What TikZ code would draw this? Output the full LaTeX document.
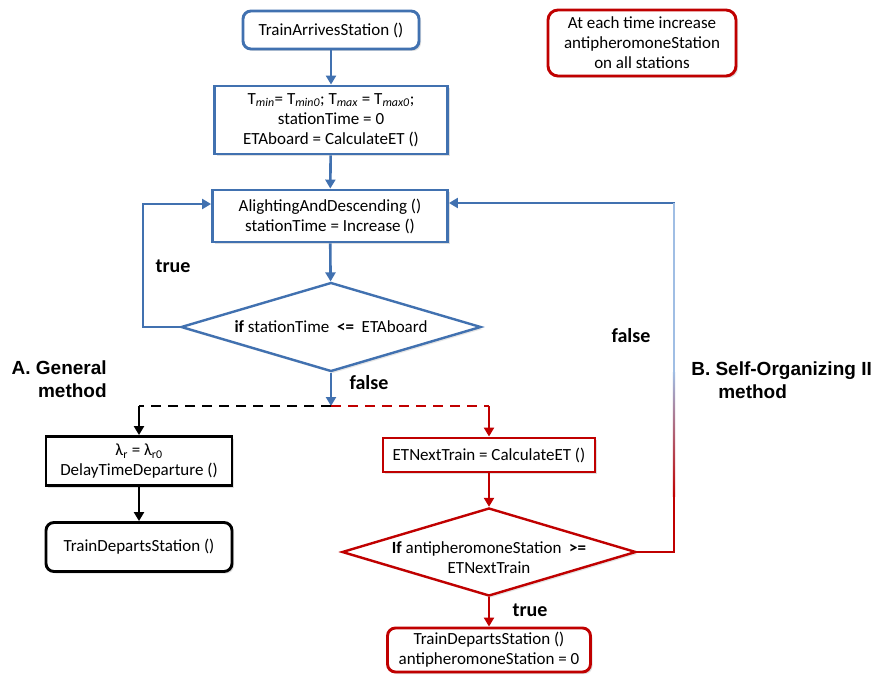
\documentclass[tikz,border=0pt]{standalone}
\usepackage{fontspec}
\setmainfont{Carlito}
\newfontfamily\labelfont{Liberation Sans}
\usetikzlibrary{shapes.geometric,arrows.meta,shadows}
\definecolor{flowblue}{RGB}{65,113,176}
\definecolor{flowred}{RGB}{192,0,0}
\definecolor{paleblue}{RGB}{160,190,228}

\begin{document}
\begin{tikzpicture}[x=1pt, y=-1pt, >={Triangle[length=9pt,width=10pt]}, line width=2.6pt]
\tikzstyle{flowbox}=[rectangle, draw, line width=2.9pt, fill=white, align=center, inner sep=2pt,
  font=\fontsize{17}{20}\selectfont, drop shadow={shadow xshift=2pt, shadow yshift=-2pt, opacity=0.25}]
\tikzstyle{decision}=[diamond, draw, line width=2.4pt, fill=white, aspect=3.3, inner sep=0pt,
  font=\fontsize{17}{20}\selectfont, drop shadow={shadow xshift=2pt, shadow yshift=-2pt, opacity=0.2}]
\tikzstyle{blueflow}=[->, draw=flowblue]
\tikzstyle{redflow}=[->, draw=flowred]
\tikzstyle{blackflow}=[->, draw=black]
\tikzstyle{bigword}=[inner sep=0pt, font=\fontsize{20}{24}\selectfont\bfseries]
\tikzstyle{method}=[inner sep=0pt, font=\labelfont\bfseries\fontsize{19}{23}\selectfont]
\fill[white] (0,0) rectangle (879,677);
\useasboundingbox (0,0) rectangle (879,677);
% main loop
\node[flowbox, rounded corners=8pt, draw=flowblue, minimum width=176pt, minimum height=38pt] (arrive) at (331,30) {TrainArrivesStation ()};
\node[flowbox, draw=flowblue, minimum width=233pt, minimum height=68pt] (init) at (331,120)
  {T\textsubscript{\textit{min}}= T\textsubscript{\textit{min0}}; T\textsubscript{\textit{max}} = T\textsubscript{\textit{max0}};\\stationTime = 0\\ETAboard = CalculateET ()};
\node[flowbox, draw=flowblue, minimum width=235pt, minimum height=52pt] (alight) at (330,216) {AlightingAndDescending ()\\stationTime = Increase ()};
\node[decision, draw=flowblue, minimum width=300pt, minimum height=89pt] (ifstay) at (331,327) {\textbf{if} stationTime \ \textbf{<=} \ ETAboard};
\coordinate (split) at (331,406);
% A. general method
\node[flowbox, draw=black, minimum width=186pt, minimum height=49pt] (delay) at (139,461) {λ\textsubscript{r} = λ\textsubscript{r0}\\DelayTimeDeparture ()};
\node[flowbox, rounded corners=8pt, draw=black, minimum width=186pt, minimum height=49pt] (departA) at (139,547) {TrainDepartsStation ()};
% B. self-organizing method
\node[flowbox, draw=flowred, minimum width=212pt, minimum height=34pt] (etnext) at (489,455) {ETNextTrain = CalculateET ()};
\node[decision, draw=flowred, minimum width=294pt, minimum height=88pt,
  label={[font=\fontsize{17}{20}\selectfont, align=center, yshift=-6pt]center:{\textbf{If} antipheromoneStation \ \textbf{>=}\\ETNextTrain}}] (ifanti) at (489,552) {};
\node[flowbox, rounded corners=8pt, draw=flowred, minimum width=203pt, minimum height=44pt] (departB) at (489,650) {TrainDepartsStation ()\\antipheromoneStation = 0};
\node[flowbox, rounded corners=10pt, draw=flowred, minimum width=188pt, minimum height=66pt] (note) at (642,43) {At each time increase\\antipheromoneStation\\on all stations};
\coordinate (backturn) at (674,203);

\draw[blueflow] (arrive) -- (init);
\draw[blueflow] (init) -- (alight);
\draw[blueflow] (alight) -- (ifstay);
\draw[blueflow] (ifstay.west) -- ++(-37,0) |- ([yshift=12pt]alight.west);
\draw[blueflow] (ifstay.south) -- (split);
\draw[black, dash pattern=on 10pt off 7pt] (split) -- (split -| delay.north);
\draw[blackflow] (split -| delay.north) -- (delay.north);
\draw[flowred, dash pattern=on 10pt off 7pt] (split) -- (split -| etnext.north);
\draw[redflow] (split -| etnext.north) -- (etnext.north);
\draw[blackflow] (delay) -- (departA);
\draw[redflow] (etnext) -- (ifanti);
\draw[redflow] (ifanti) -- (departB);
\draw[blueflow] (ifanti.east) -| (backturn) -- ([yshift=13pt]alight.east);
% colour fade on the way back
\draw[paleblue, line width=2.2pt] (backturn) -- (674,372);
\shade[top color=paleblue, bottom color=flowred] (672.9,372) rectangle (675.1,496);
\draw[flowred, line width=2.2pt] (674,495) |- (ifanti.east);

\node[bigword] (trueA) at (173,266) {true};
\node[bigword] (falseA) at (369,383) {false};
\node[bigword] (falseB) at (631,336) {false};
\node[bigword] (trueB) at (530,610) {true};
\node[method, anchor=east, align=right] (methodA) at (108,379) {A. General\\method};
\node[method, anchor=west, align=left] (methodB) at (690,380) {B. Self-Organizing II\\\hspace*{27pt}method};
\end{tikzpicture}
\end{document}
